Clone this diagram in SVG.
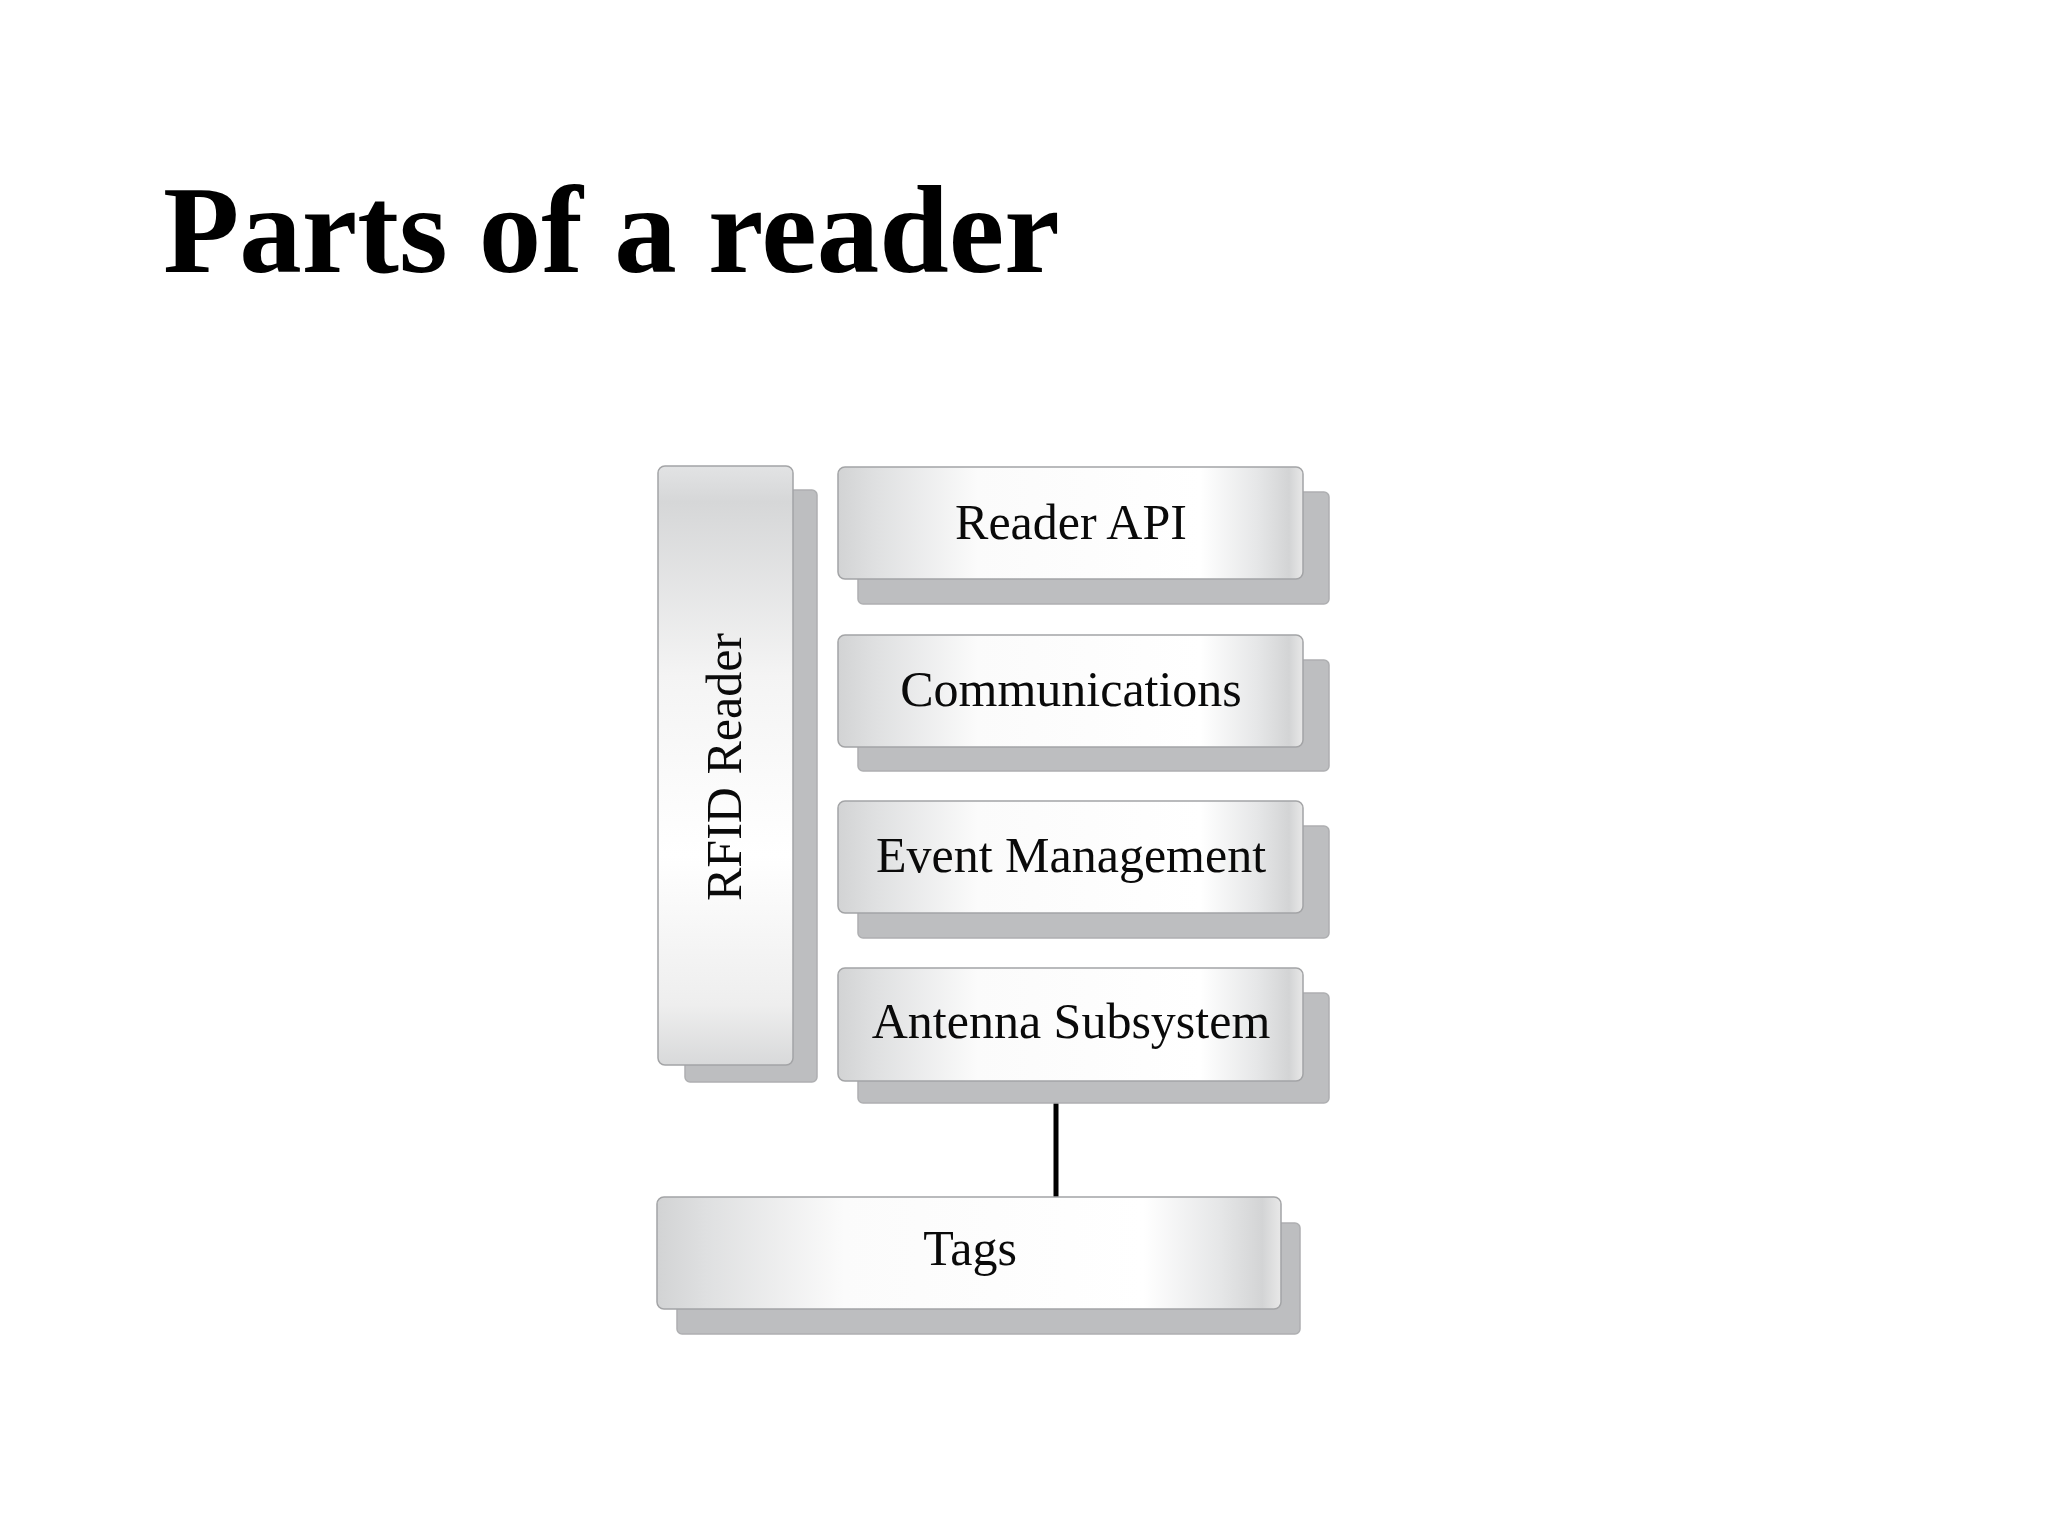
<svg xmlns="http://www.w3.org/2000/svg" width="2048" height="1536" viewBox="0 0 2048 1536">
<defs>
<linearGradient id="hg" x1="0" y1="0" x2="1" y2="0">
<stop offset="0" stop-color="#d2d3d4"/>
<stop offset="0.08" stop-color="#dfe0e1"/>
<stop offset="0.3" stop-color="#fbfbfb"/>
<stop offset="0.78" stop-color="#ffffff"/>
<stop offset="0.9" stop-color="#e6e7e8"/>
<stop offset="0.97" stop-color="#d3d4d5"/>
<stop offset="1" stop-color="#e8e8e8"/>
</linearGradient>
<linearGradient id="vg" x1="0" y1="0" x2="0" y2="1">
<stop offset="0" stop-color="#e2e3e4"/>
<stop offset="0.06" stop-color="#d6d7d8"/>
<stop offset="0.35" stop-color="#f4f4f4"/>
<stop offset="0.65" stop-color="#ffffff"/>
<stop offset="0.9" stop-color="#eeeeee"/>
<stop offset="1" stop-color="#d8d9da"/>
</linearGradient>
</defs>
<style>
.front{stroke:#a3a4a6;stroke-width:1.5}
.h{fill:url(#hg)}
.v{fill:url(#vg)}
.shadow{fill:#bdbec0;stroke:#aeafb1;stroke-width:1.5}
.lbl{font-family:"Liberation Serif","Times New Roman",serif;font-size:50px;fill:#0a0a0a;text-anchor:middle}
.title{font-family:"Liberation Serif","Times New Roman",serif;font-size:125px;font-weight:bold;fill:#000}
</style>
<rect width="2048" height="1536" fill="#ffffff"/>
<text class="title" x="163" y="272">Parts of a reader</text>
<g id="connectors">
<line x1="1056" y1="1103" x2="1056" y2="1197" stroke="#000" stroke-width="5"/>
</g>
<g id="rfid-reader">
<rect class="shadow" x="685" y="490" width="132" height="592" rx="5"/>
<rect class="front v" x="658" y="466" width="135" height="599" rx="7"/>
<text class="lbl" transform="translate(741,767) rotate(-90)">RFID Reader</text>
</g>
<g id="reader-api">
<rect class="shadow" x="858" y="492" width="471" height="112" rx="5"/>
<rect class="front h" x="838" y="467" width="465" height="112" rx="7"/>
<text class="lbl" x="1071" y="539">Reader API</text>
</g>
<g id="communications">
<rect class="shadow" x="858" y="660" width="471" height="111" rx="5"/>
<rect class="front h" x="838" y="635" width="465" height="112" rx="7"/>
<text class="lbl" x="1071" y="706">Communications</text>
</g>
<g id="event-management">
<rect class="shadow" x="858" y="826" width="471" height="112" rx="5"/>
<rect class="front h" x="838" y="801" width="465" height="112" rx="7"/>
<text class="lbl" x="1071" y="872">Event Management</text>
</g>
<g id="antenna-subsystem">
<rect class="shadow" x="858" y="993" width="471" height="110" rx="5"/>
<rect class="front h" x="838" y="968" width="465" height="113" rx="7"/>
<text class="lbl" x="1071" y="1038">Antenna Subsystem</text>
</g>
<g id="tags">
<rect class="shadow" x="677" y="1223" width="623" height="111" rx="5"/>
<rect class="front h" x="657" y="1197" width="624" height="112" rx="7"/>
<text class="lbl" x="970" y="1265">Tags</text>
</g>
</svg>
